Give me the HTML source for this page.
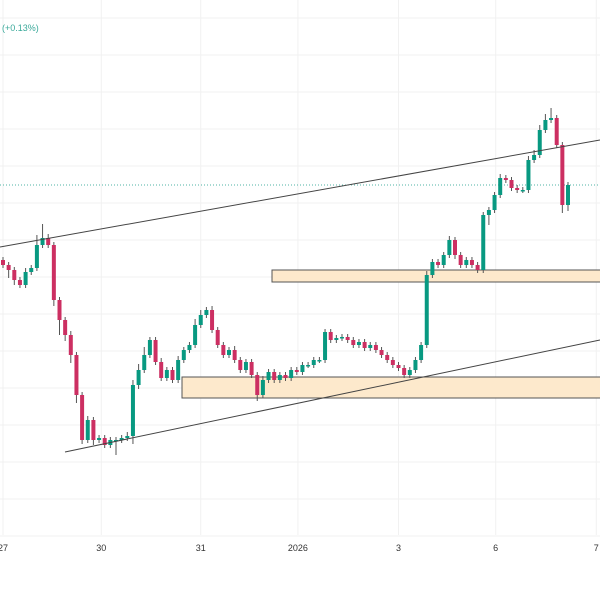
<!DOCTYPE html>
<html><head><meta charset="utf-8"><style>
html,body{margin:0;padding:0;background:#fff;}
svg{display:block;font-family:"Liberation Sans",sans-serif;}
</style></head><body>
<svg id="chart" width="600" height="600" viewBox="0 0 600 600" xmlns="http://www.w3.org/2000/svg">
<g id="grid"></g>
<text x="2" y="31" font-size="9" fill="#3aa99a">(+0.13%)</text>
<g id="zones"></g>
<line x1="0" y1="185" x2="600" y2="185" stroke="#4fb3a5" stroke-width="1" stroke-dasharray="1,2"/>
<g id="candles"></g>
<g id="trendlines"></g>
<g id="xaxis"></g>
</svg>
<script>
const closes=[335,330,320,315,328,332,355,362,355,300,280,265,245,205,160,180,160,162,155,160,160,162,164,215,230,245,260,238,222,230,220,240,250,255,275,285,290,270,255,245,250,240,230,238,225,205,220,228,220,225,222,230,228,235,235,240,240,268,260,262,263,260,255,258,252,255,250,245,240,235,232,225,230,240,255,325,338,335,345,360,345,335,340,335,330,385,390,405,422,420,412,410,410,440,445,470,480,482,455,395,415];
const firstOpen=340;
const wickHi=[3,3,3,3,4,3,10,14,4,3,3,3,4,3,3,4,3,3,3,3,3,3,4,5,6,8,3,3,4,3,3,4,3,3,6,5,3,4,3,3,3,4,3,3,3,3,4,3,3,3,3,3,3,3,3,3,3,3,3,3,3,3,3,3,3,3,3,3,3,3,3,3,3,3,3,4,3,3,3,4,3,3,3,3,3,3,3,3,4,3,3,3,3,4,5,5,6,10,3,3,3];
const wickLo=[3,8,5,3,3,3,3,3,3,6,15,6,8,8,4,3,5,3,3,3,15,3,3,8,4,3,3,3,3,3,3,3,3,3,3,3,3,3,3,3,3,3,3,3,3,6,3,3,3,3,3,3,3,3,3,3,3,3,3,3,3,3,3,3,3,3,3,3,3,3,3,3,3,3,3,3,3,3,3,3,4,3,3,3,3,3,10,3,3,3,3,3,3,3,3,3,3,3,3,8,6];
const xLabels=["27","30","31","2026","3","6","7"];
const xLabelPos=[0,17.4,35,52.2,70,87.2,105];
const upperLine=[[0,353],[600,460]];
const lowerLine=[[65,148],[600,260]];
const zones=[[272,330,318],[182,223,202]];
const NS="http://www.w3.org/2000/svg";
const step=5.65, x0=3;
function xOf(i){return x0+i*step;}
function yOf(p){return 600-p;}
function mk(t,a,parent){const e=document.createElementNS(NS,t);for(const k in a)e.setAttribute(k,a[k]);parent.appendChild(e);return e;}
const grid=document.getElementById('grid');
for(let y=18;y<540;y+=37){const l=mk('line',{x1:0,x2:600,y1:y,y2:y,stroke:'#f1f1f1','stroke-width':1},grid);

}
const xa=document.getElementById('xaxis');
xLabels.forEach((s,k)=>{const x=xOf(xLabelPos[k]);
const l=mk('line',{x1:x,x2:x,y1:0,y2:535,stroke:'#f1f1f1','stroke-width':1},grid);


const t=mk('text',{x:x,y:551,'font-size':9,fill:'#333','text-anchor':'middle'},xa);t.textContent=s;

});
const zg=document.getElementById('zones');
zones.forEach(z=>{const r=mk('rect',{x:z[0],y:yOf(z[1]),width:600-z[0]+2,height:z[1]-z[2],fill:'#fde9cc',stroke:'#555','stroke-width':1},zg);

});
const cg=document.getElementById('candles');
closes.forEach((c,i)=>{const o=i===0?firstOpen:closes[i-1];const hi=Math.max(o,c)+wickHi[i],lo=Math.min(o,c)-wickLo[i];
const up=c>=o;const col=up?'#089981':'#cc2f62';const x=xOf(i);
const w=mk('line',{x1:x,x2:x,y1:yOf(hi),y2:yOf(lo),stroke:'#555','stroke-width':1},cg);


const b=mk('rect',{x:x-2,y:yOf(Math.max(o,c)),width:4,height:Math.max(1.5,Math.abs(c-o)),fill:col},cg);

});
const tg=document.getElementById('trendlines');
[upperLine,lowerLine].forEach(L=>{const l=mk('line',{x1:L[0][0],y1:yOf(L[0][1]),x2:L[1][0],y2:yOf(L[1][1]),stroke:'#444','stroke-width':1},tg);

});
</script>
</body></html>
